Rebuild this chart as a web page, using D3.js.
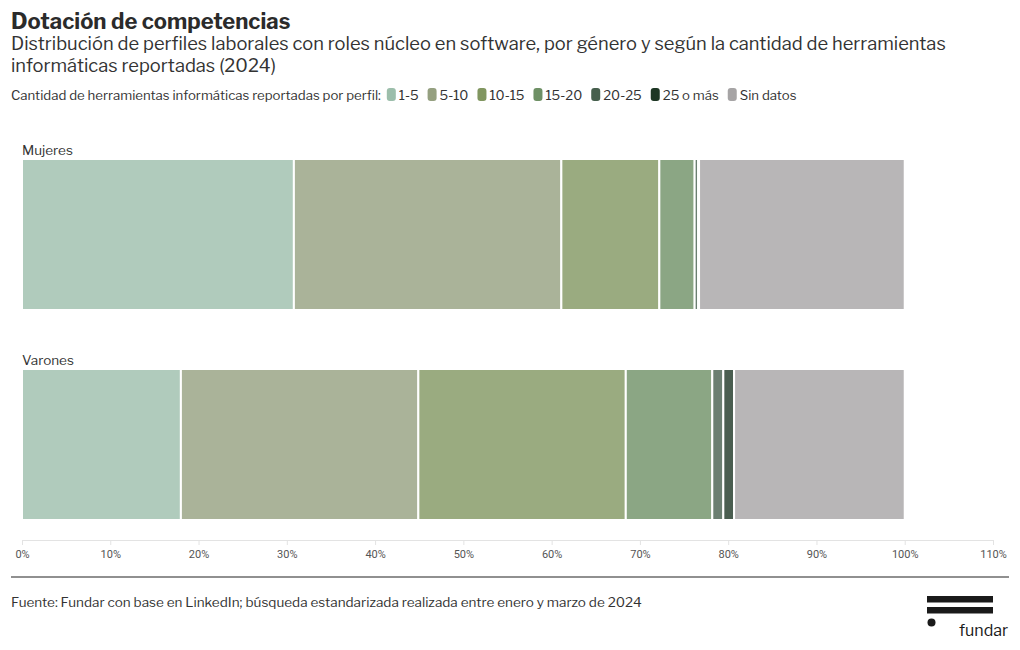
<!DOCTYPE html>
<html><head><meta charset="utf-8">
<script src="https://cdn.jsdelivr.net/npm/d3@7"></script>
<style>
body{margin:0;background:#fff;}
svg text{font-family:"Libre Franklin","Lato","Roboto",sans-serif;}
</style></head>
<body><svg id="c" width="1020" height="650"></svg>
<script>
const groups = ["Mujeres", "Varones"];
const categories = ["1-5", "5-10", "10-15", "15-20", "20-25", "25 o más", "Sin datos"];
const mujeres = [30.8, 30.3, 11.1, 4.0, 0.4, 0.1, 23.3];
const varones = [18.0, 26.9, 23.5, 9.8, 1.25, 1.22, 19.33];
const colors = ["#9cbeab", "#95a080", "#819660", "#6e9065", "#465f4d", "#1d3624", "#a6a4a5"];
const xTicks = [0, 10, 20, 30, 40, 50, 60, 70, 80, 90, 100, 110];
const subtitleLines = [
  "Distribución de perfiles laborales con roles núcleo en software, por género y según la cantidad de herramientas",
  "informáticas reportadas (2024)"
];

const svg = d3.select("#c");
const rows = groups.map((g, i) => {
  const o = {group: g};
  const vals = i === 0 ? mujeres : varones;
  categories.forEach((c, j) => o[c] = vals[j]);
  return o;
});
const stacked = d3.stack().keys(categories)(rows);
const x = d3.scaleLinear().domain([0, 110]).range([22, 993]);
const y = d3.scaleBand().domain(groups).range([159, 520]).paddingInner(0.281).paddingOuter(0);
const color = d3.scaleOrdinal().domain(categories).range(colors);

// Title
svg.append("text").attr("x", 11).attr("y", 29).attr("font-size", 22).attr("font-weight", 700).attr("fill", "#2b2b2b").text("Dotación de competencias");
subtitleLines.forEach((s, i) => {
  svg.append("text").attr("x", 11).attr("y", 50 + i * 22).attr("font-size", 18.3).attr("fill", "#333").text(s);
});

// Legend
const lg = svg.append("g");
const lt = lg.append("text").attr("x", 11).attr("y", 100).attr("font-size", 13.2).attr("fill", "#333").text("Cantidad de herramientas informáticas reportadas por perfil:");
let lx = 11 + lt.node().getComputedTextLength() + 6;
categories.forEach((c, i) => {
  lg.append("rect").attr("x", lx).attr("y", 88).attr("width", 9).attr("height", 13).attr("rx", 3).attr("fill", color(c));
  const t = lg.append("text").attr("x", lx + 12).attr("y", 100).attr("font-size", 13.2).attr("fill", "#333").text(c);
  lx += 12 + t.node().getComputedTextLength() + 9;
});

// Axis
const ax = svg.append("g").attr("transform", "translate(0,540)")
  .call(d3.axisBottom(x).tickValues(xTicks).tickFormat(d => d + "%").tickSize(5).tickSizeOuter(0));
ax.select(".domain").attr("stroke", "#e3e3e3");
ax.selectAll(".tick line").attr("stroke", "#e3e3e3");
ax.selectAll(".tick text").attr("font-size", 11).attr("fill", "#555").attr("dy", "0.9em")
  .style("font-family", "'Liberation Sans Narrow','Roboto',sans-serif");

// Group labels
groups.forEach(g => {
  svg.append("text").attr("x", 22).attr("y", y(g) - 4).attr("font-size", 13.5).attr("fill", "#333").text(g);
});

// Bars
svg.append("g").selectAll("g").data(stacked).join("g")
  .attr("fill", d => color(d.key)).attr("fill-opacity", 0.8)
  .selectAll("rect").data(d => d).join("rect")
  .attr("x", d => x(d[0])).attr("width", d => Math.max(0, x(d[1]) - x(d[0])))
  .attr("y", d => y(d.data.group)).attr("height", y.bandwidth())
  .attr("stroke", "#fff").attr("stroke-width", 2);

// Divider
svg.append("line").attr("x1", 11).attr("x2", 1009).attr("y1", 577).attr("y2", 577).attr("stroke", "#222").attr("stroke-width", 1.2);

// Source
svg.append("text").attr("x", 11).attr("y", 607).attr("font-size", 13.5).attr("fill", "#333")
  .text("Fuente: Fundar con base en LinkedIn; búsqueda estandarizada realizada entre enero y marzo de 2024");

// Logo
const logo = svg.append("g");
logo.append("rect").attr("x", 927).attr("y", 596).attr("width", 66).attr("height", 6.5).attr("fill", "#1a1a1a");
logo.append("rect").attr("x", 927).attr("y", 607).attr("width", 66).attr("height", 6.5).attr("fill", "#1a1a1a");
logo.append("circle").attr("cx", 931.5).attr("cy", 622.5).attr("r", 4).attr("fill", "#1a1a1a");
logo.append("text").attr("x", 959).attr("y", 636).attr("font-size", 16).attr("fill", "#1a1a1a").text("fundar");
</script></body></html>
